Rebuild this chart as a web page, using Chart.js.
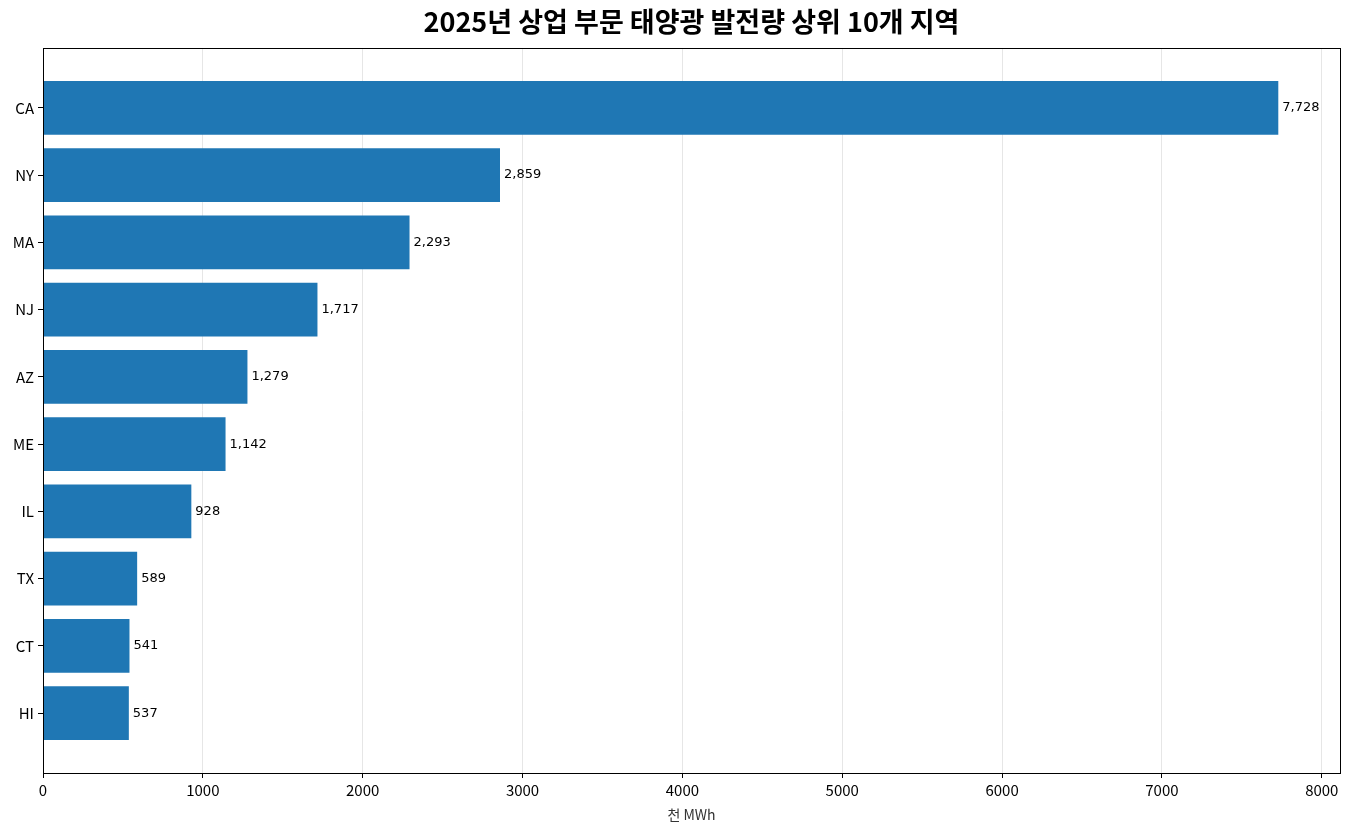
<!DOCTYPE html>
<html>
<head>
<meta charset="utf-8">
<script src="https://cdn.jsdelivr.net/npm/chart.js@4"></script>
<style>
  body { margin: 0; background: #fff; }
  #wrap { width: 1351px; height: 831px; }
</style>
</head>
<body>
<div id="wrap"><canvas id="chart_top10"></canvas></div>
<script>
// 2025 commercial solar generation, top 10 states (thousand MWh)
var chartTitle = '2025년 상업 부문 태양광 발전량 상위 10개 지역';
var states = ["CA", "NY", "MA", "NJ", "AZ", "ME", "IL", "TX", "CT", "HI"];
var generation = [7728, 2859, 2293, 1717, 1279, 1142, 928, 589, 541, 537];
var xTicks = [0, 1000, 2000, 3000, 4000, 5000, 6000, 7000, 8000];

var points = states.map(function (s, i) { return { x: generation[i], y: i }; });

// title centred over the plot, value labels at bar ends, box around plot area
var extras = {
  id: 'extras',
  afterDatasetsDraw: function (chart) {
    var ctx = chart.ctx;
    var a = chart.chartArea;
    var meta = chart.getDatasetMeta(0);
    ctx.save();
    ctx.font = '13px "DejaVu Sans"';
    ctx.fillStyle = '#000';
    ctx.textBaseline = 'middle';
    ctx.textAlign = 'left';
    meta.data.forEach(function (bar, i) {
      ctx.fillText(generation[i].toLocaleString('en-US'), bar.x + 4, bar.y);
    });
    ctx.strokeStyle = '#000';
    ctx.lineWidth = 1;
    ctx.strokeRect(Math.round(a.left) + 0.5, Math.round(a.top) + 0.5, Math.round(a.right - a.left), Math.round(a.bottom - a.top));
    ctx.font = 'bold 27px "Noto Sans CJK KR"';
    ctx.textAlign = 'center';
    ctx.fillText(chartTitle, (a.left + a.right) / 2, 22);
    ctx.restore();
  }
};

var ctx = document.getElementById('chart_top10').getContext('2d');
var myChart = new Chart(ctx, {
  type: 'bar',
  data: {
    datasets: [{
      data: points,
      backgroundColor: '#1f77b4',
      borderWidth: 0,
      categoryPercentage: 1.0,
      barPercentage: 0.8
    }]
  },
  options: {
    indexAxis: 'y',
    responsive: true,
    maintainAspectRatio: false,
    animation: false,
    layout: { padding: { left: 0, right: 11, top: 48, bottom: 0 } },
    plugins: {
      legend: { display: false },
      tooltip: { enabled: false },
      title: { display: false }
    },
    scales: {
      x: {
        type: 'linear',
        min: 0,
        max: 8114,
        ticks: {
          color: '#000',
          padding: 3,
          font: { family: '"Noto Sans CJK KR"', size: 15 },
          callback: function (v) { return String(v); }
        },
        afterBuildTicks: function (scale) {
          scale.ticks = xTicks.map(function (v) { return { value: v }; });
        },
        afterFit: function (scale) { scale.height = 58; },
        grid: { color: '#e6e6e6', tickColor: '#000', tickLength: 5 },
        border: { display: false },
        title: {
          display: true,
          text: '천 MWh',
          color: '#333',
          font: { family: '"Noto Sans CJK KR"', size: 14 },
          padding: { top: 0, bottom: 8 }
        }
      },
      y: {
        type: 'linear',
        reverse: true,
        offset: false,
        min: -0.89,
        max: 9.89,
        afterBuildTicks: function (scale) {
          scale.ticks = states.map(function (s, i) { return { value: i }; });
        },
        afterFit: function (scale) { scale.width = 43; },
        ticks: {
          color: '#000',
          padding: 4,
          font: { family: '"Noto Sans CJK KR"', size: 15 },
          callback: function (v) { return states[v]; }
        },
        grid: { offset: false, drawOnChartArea: false, tickColor: '#000', tickLength: 5 },
        border: { display: false }
      }
    }
  },
  plugins: [extras]
});
</script>
</body>
</html>
